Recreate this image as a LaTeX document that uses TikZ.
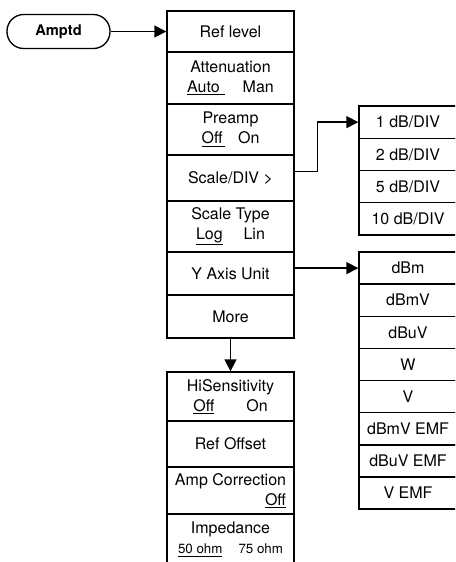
\documentclass[tikz,border=0pt]{standalone}
\usepackage{fontspec}
\setmainfont{TeX Gyre Heros}
\usetikzlibrary{arrows.meta, positioning}

\begin{document}
\begin{tikzpicture}[x=0.75pt, y=-0.75pt, line width=1pt,
    >={Triangle[length=9pt,width=9pt]},
    cell/.style={draw, inner sep=0pt, align=center,
      font=\fontsize{12}{15}\selectfont},
    mainbox/.style={cell, minimum width=95.25pt},
    sidebox/.style={cell, minimum width=73.5pt, minimum height=24.2pt}]
  \useasboundingbox (0,0) rectangle (455,562);
  \clip (0,0) rectangle (455,562);
  % Key
  \node[draw, rounded corners=12.5pt, minimum width=77.25pt, minimum height=25.5pt,
    font=\bfseries\fontsize{11}{13}\selectfont] (amptd) at (58.5,31.5) {Amptd};
  % Main menu
  \node[mainbox, minimum height=30.75pt] (reflevel) at (230.5,31.5) {Ref level};
  \node[mainbox, minimum height=39pt] (atten) at (230.5,78) {Attenuation\\\underline{Auto\,\,}\hspace{1.1em}Man};
  \node[mainbox, minimum height=38.25pt] (preamp) at (230.5,129.5) {Preamp\\\underline{Off\,}\hspace{0.8em}On};
  \node[mainbox, minimum height=34.5pt] (scalediv) at (230.5,178) {Scale/DIV >};
  \node[mainbox, minimum height=38.25pt] (scaletype) at (230.5,226.5) {Scale Type\\\underline{Log}\hspace{1.3em}Lin};
  \node[mainbox, minimum height=32.25pt] (yaxis) at (230.5,273.5) {Y Axis Unit};
  \node[mainbox, minimum height=32.25pt] (more) at (230.5,316.5) {More};
  % Scale/DIV menu
  \node[sidebox] (div1) at (408,122.1) {1 dB/DIV};
  \node[sidebox] (div2) at (408,154.4) {2 dB/DIV};
  \node[sidebox] (div5) at (408,186.6) {5 dB/DIV};
  \node[sidebox] (div10) at (408,218.9) {10 dB/DIV};
  % Y Axis Unit menu
  \node[sidebox] (dbm) at (408,268.1) {dBm};
  \node[sidebox] (dbmv) at (408,300.2) {dBmV};
  \node[sidebox] (dbuv) at (408,332.4) {dBuV};
  \node[sidebox] (watt) at (408,364.5) {W};
  \node[sidebox] (volt) at (408,396.6) {V};
  \node[sidebox] (dbmvemf) at (408,428.8) {dBmV EMF};
  \node[sidebox] (dbuvemf) at (408,460.9) {dBuV EMF};
  \node[sidebox] (vemf) at (408,493) {V EMF};
  % More menu
  \node[mainbox, minimum height=36.75pt] (hisens) at (230.5,396.5) {HiSensitivity\\\underline{Off}\hspace{2em}On};
  \node[mainbox, minimum height=34.5pt] (refoffset) at (230.5,444) {Ref Offset};
  \node[mainbox, minimum height=35.25pt, align=right] (ampcorr) at (230.5,490.5) {Amp Correction\\\underline{Off}};
  \node[mainbox, minimum height=38.25pt] (imped) at (230.5,539.5)
    {Impedance\\{\fontsize{10}{12}\selectfont\underline{50 ohm}\hspace{1.2em}75 ohm}};
  % Connectors
  \draw[->] (amptd) -- (reflevel);
  \draw[->] ([yshift=5pt]scalediv.east) -- ++(23,0) |- (div1.west);
  \draw[->] (yaxis.east |- dbm.west) -- (dbm.west);
  \draw[->] (more) -- (hisens);
\end{tikzpicture}
\end{document}
